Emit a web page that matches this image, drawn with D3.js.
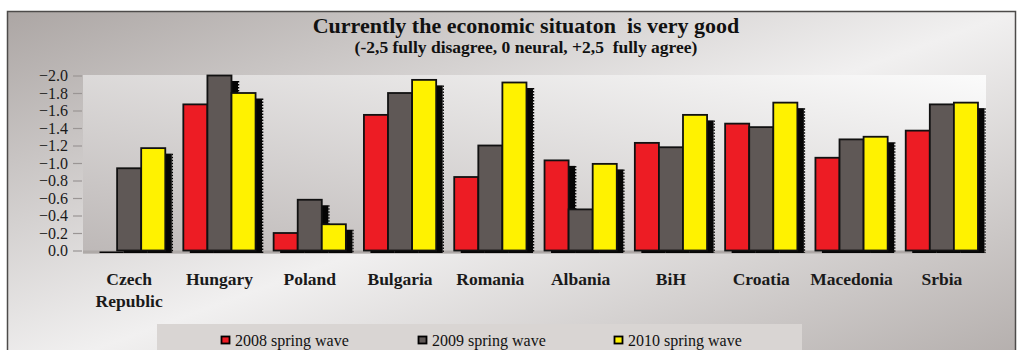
<!DOCTYPE html>
<html>
<head>
<meta charset="utf-8">
<script src="https://cdn.jsdelivr.net/npm/d3@7"></script>
<style>
  html, body { margin: 0; padding: 0; background: #ffffff; }
  svg { display: block; }
  text { font-family: "Liberation Serif", "Times New Roman", serif; }
</style>
</head>
<body>
<svg id="chart" width="1028" height="350"></svg>
<script>
// Survey answers: "Currently the economic situation is very good"
const categories = ["Czech Republic", "Hungary", "Poland", "Bulgaria", "Romania",
                    "Albania", "BiH", "Croatia", "Macedonia", "Srbia"];
const series = ["2008 spring wave", "2009 spring wave", "2010 spring wave"];
const wave2008 = [0.00, -1.67, -0.20, -1.55, -0.84, -1.03, -1.23, -1.45, -1.06, -1.37];
const wave2009 = [-0.94, -2.00, -0.58, -1.80, -1.20, -0.47, -1.18, -1.41, -1.27, -1.67];
const wave2010 = [-1.17, -1.80, -0.30, -1.95, -1.92, -0.99, -1.55, -1.69, -1.30, -1.69];
const yTicks = [0, -0.2, -0.4, -0.6, -0.8, -1.0, -1.2, -1.4, -1.6, -1.8, -2.0];
const colors = ["#ed1c24", "#5f5856", "#fff200"];

const values = [wave2008, wave2009, wave2010];
const rows = [];
categories.forEach((c, i) => {
  series.forEach((s, j) => rows.push({ cat: c, series: s, idx: j, value: values[j][i] }));
});

const svg = d3.select("#chart");
const defs = svg.append("defs");

const outerGrad = defs.append("linearGradient").attr("id", "outerBg")
  .attr("x1", 0).attr("y1", 0).attr("x2", 1).attr("y2", 1);
outerGrad.append("stop").attr("offset", 0).attr("stop-color", "#aca6a4");
outerGrad.append("stop").attr("offset", 0.5).attr("stop-color", "#f1f0f0");
outerGrad.append("stop").attr("offset", 1).attr("stop-color", "#b0aaa8");

const plotGrad = defs.append("linearGradient").attr("id", "plotBg")
  .attr("x1", 0).attr("y1", 1).attr("x2", 1).attr("y2", 0);
plotGrad.append("stop").attr("offset", 0).attr("stop-color", "#bdb8b7");
plotGrad.append("stop").attr("offset", 1).attr("stop-color", "#fbfbfb");

// outer frame
svg.append("rect")
  .attr("x", 7.5).attr("y", 11.5).attr("width", 1008).attr("height", 370)
  .attr("fill", "url(#outerBg)").attr("stroke", "#4d4b4a").attr("stroke-width", 1.5);

// titles
svg.append("text")
  .attr("x", 526).attr("y", 33).attr("text-anchor", "middle")
  .attr("font-size", 22).attr("font-weight", "bold").attr("fill", "#111")
  .style("white-space", "pre")
  .text("Currently the economic situaton  is very good");
svg.append("text")
  .attr("x", 526).attr("y", 53).attr("text-anchor", "middle")
  .attr("font-size", 17.5).attr("font-weight", "bold").attr("fill", "#111")
  .style("white-space", "pre")
  .text("(-2,5 fully disagree, 0 neural, +2,5  fully agree)");

// scales
const x = d3.scaleBand().domain(categories).range([84, 987])
  .paddingInner(0.2).paddingOuter(0.1);
const xs = d3.scaleBand().domain(series).range([0, x.bandwidth()]).padding(0);
const y = d3.scaleLinear().domain([0, -2.0]).range([250.5, 75.5]);

// plot area
const [px0, px1] = x.range();
svg.append("rect")
  .attr("x", px0 - 1).attr("y", y(-2.0) - 0.5)
  .attr("width", px1 - px0).attr("height", y(0) - y(-2.0) + 3.5)
  .attr("fill", "url(#plotBg)");
svg.append("rect")
  .attr("x", px0 - 1).attr("y", y(0))
  .attr("width", px1 - px0).attr("height", 3)
  .attr("fill", "#aea9a7");

// y axis
const yAxis = svg.append("g").attr("transform", `translate(${px0 - 2},0)`)
  .call(d3.axisLeft(y).tickValues(yTicks).tickFormat(d3.format(".1f")).tickSize(9).tickPadding(5));
yAxis.select(".domain").remove();
yAxis.selectAll(".tick line").attr("stroke", "#9a9594").attr("stroke-width", 1.2);
yAxis.selectAll(".tick text")
  .attr("font-family", "Liberation Serif, serif")
  .attr("font-size", 16).attr("fill", "#1a1a1a");

// bar shadows, with a serrated right edge
const sdx = 6.5, sdy = 5.5;
const shadowTop = d => Math.min(y(d.value) + sdy, y(0) + 1);
const shadowBottom = () => y(0) + 2.5;
const shadows = svg.append("g");
shadows.selectAll("rect").data(rows).join("rect")
  .attr("x", d => x(d.cat) + xs(d.series) + sdx)
  .attr("y", shadowTop)
  .attr("width", xs.bandwidth())
  .attr("height", d => Math.max(shadowBottom() - shadowTop(d), 1.5))
  .attr("fill", "#050505");
shadows.selectAll("line").data(rows.filter(d => d.value < 0)).join("line")
  .attr("x1", d => x(d.cat) + xs(d.series) + sdx + xs.bandwidth() + 0.6)
  .attr("x2", d => x(d.cat) + xs(d.series) + sdx + xs.bandwidth() + 0.6)
  .attr("y1", shadowTop)
  .attr("y2", shadowBottom)
  .attr("stroke", "#050505").attr("stroke-width", 1.3)
  .attr("stroke-dasharray", "1.5,1.5");

// bars
svg.append("g").selectAll("rect").data(rows).join("rect")
  .attr("x", d => x(d.cat) + xs(d.series))
  .attr("y", d => y(d.value))
  .attr("width", xs.bandwidth())
  .attr("height", d => y(0) - y(d.value))
  .attr("fill", d => colors[d.idx])
  .attr("stroke", "#111").attr("stroke-width", 1.8);

// category labels
const labels = svg.append("g").selectAll("text").data(categories).join("text")
  .attr("x", d => x(d) + x.bandwidth() / 2)
  .attr("y", 285)
  .attr("text-anchor", "middle")
  .attr("font-size", 17.5).attr("font-weight", "bold").attr("fill", "#1a1a1a");
labels.each(function (d) {
  const words = d.split(" ");
  const t = d3.select(this);
  words.forEach((w, i) => {
    t.append("tspan").attr("x", x(d) + x.bandwidth() / 2).attr("dy", i === 0 ? 0 : 22).text(w);
  });
});

// legend
svg.append("rect")
  .attr("x", 157).attr("y", 324).attr("width", 645).attr("height", 40)
  .attr("fill", "#d9d5d3");
const legendX = [221, 418, 614];
const legend = svg.append("g").selectAll("g").data(series).join("g")
  .attr("transform", (d, i) => `translate(${legendX[i]},336)`);
legend.append("rect")
  .attr("x", 0.5).attr("y", 0.5).attr("width", 8).attr("height", 7)
  .attr("fill", (d, i) => colors[i]).attr("stroke", "#000").attr("stroke-width", 1.8);
legend.append("text")
  .attr("x", 14).attr("y", 10)
  .attr("font-size", 16).attr("fill", "#111")
  .text(d => d);
</script>
</body>
</html>
